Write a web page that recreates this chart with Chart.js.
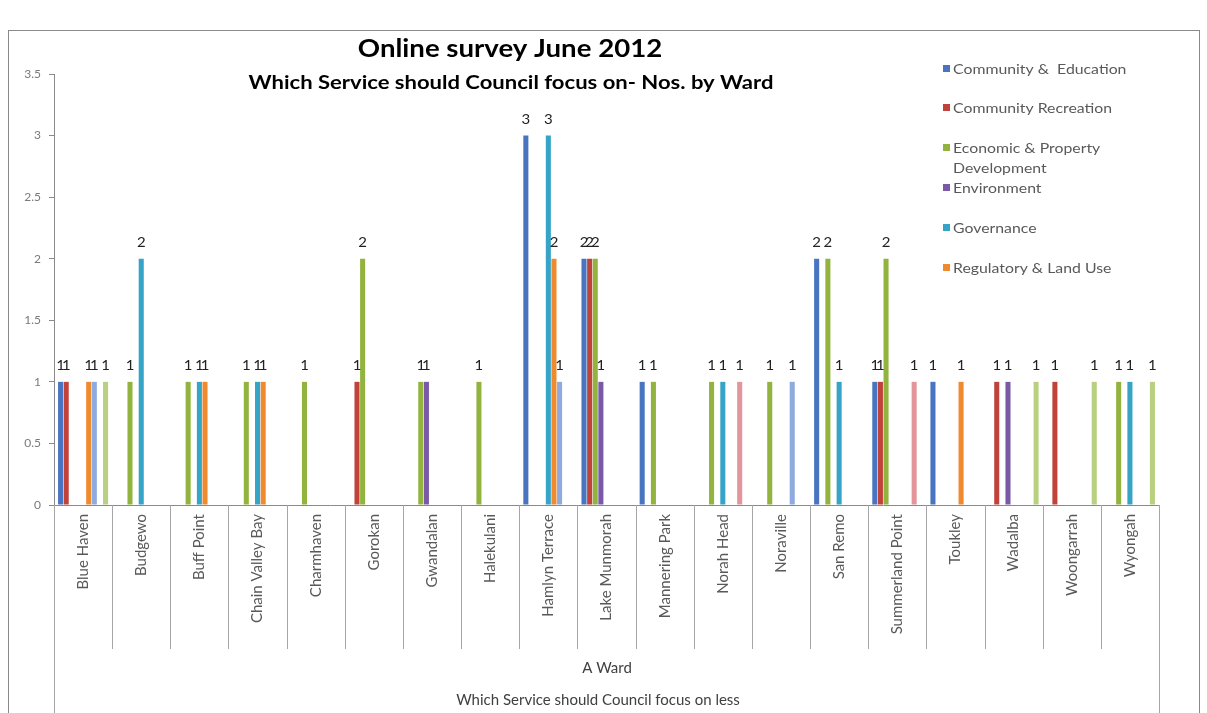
<!DOCTYPE html>
<html>
<head>
<meta charset="utf-8">
<title>Online survey June 2012</title>
<script src="https://cdn.jsdelivr.net/npm/chart.js@4.4.1/dist/chart.umd.min.js"></script>
<style>
  html, body { margin: 0; padding: 0; background: #fff; }
  #wrap { position: relative; width: 1207px; height: 713px; }
</style>
</head>
<body>
<div id="wrap"><canvas id="chart-ward"></canvas></div>
<script>
// wards (categories)
const wards = [
  'Blue Haven', 'Budgewo', 'Buff Point', 'Chain Valley Bay', 'Charmhaven',
  'Gorokan', 'Gwandalan', 'Halekulani', 'Hamlyn Terrace', 'Lake Munmorah',
  'Mannering Park', 'Norah Head', 'Noraville', 'San Remo', 'Summerland Point',
  'Toukley', 'Wadalba', 'Woongarrah', 'Wyongah'
];

// responses per ward, one array per service
const communityEducation = [1, null, null, null, null, null, null, null, 3, 2, 1, null, null, 2, 1, 1, null, null, null];
const communityRecreation = [1, null, null, null, null, 1, null, null, null, 2, null, null, null, null, 1, null, 1, 1, null];
const economicProperty = [null, 1, 1, 1, 1, 2, 1, 1, null, 2, 1, 1, 1, 2, 2, null, null, null, 1];
const environment = [null, null, null, null, null, null, 1, null, null, 1, null, null, null, null, null, null, 1, null, null];
const governance = [null, 2, 1, 1, null, null, null, null, 3, null, null, 1, null, 1, null, null, null, null, 1];
const regulatoryLand = [1, null, 1, 1, null, null, null, null, 2, null, null, null, null, null, null, 1, null, null, null];
const series7 = [1, null, null, null, null, null, null, null, 1, null, null, null, 1, null, null, null, null, null, null];
const series8 = [null, null, null, null, null, null, null, null, null, null, null, 1, null, null, 1, null, null, null, null];
const series9 = [1, null, null, null, null, null, null, null, null, null, null, null, null, null, null, null, 1, 1, 1];

const yTicks = [0, 0.5, 1, 1.5, 2, 2.5, 3, 3.5];

const services = [
  { label: 'Community &  Education', data: communityEducation, color: '#4874c0' },
  { label: 'Community Recreation', data: communityRecreation, color: '#c0433b' },
  { label: 'Economic & Property|Development', data: economicProperty, color: '#92b43f' },
  { label: 'Environment', data: environment, color: '#7a5aa6' },
  { label: 'Governance', data: governance, color: '#36a4c6' },
  { label: 'Regulatory & Land Use', data: regulatoryLand, color: '#f08a2e' },
  { label: 'Series7', data: series7, color: '#8eaadf' },
  { label: 'Series8', data: series8, color: '#e3959a' },
  { label: 'Series9', data: series9, color: '#b8d07f' }
];

const FONT = 'Lato, "Open Sans", sans-serif';
const GREY = '#595959';

// text drawn a little wider than the font, like the sheet it came from
function wideText(ctx, text, x, y, sx) {
  ctx.save();
  ctx.translate(x, y);
  ctx.scale(sx, 1);
  ctx.fillText(text, 0, 0);
  ctx.restore();
}

// value labels on top of every bar
const barLabels = {
  id: 'barLabels',
  afterDatasetsDraw(chart) {
    const { ctx } = chart;
    ctx.save();
    ctx.font = '13px ' + FONT;
    ctx.fillStyle = '#222';
    ctx.textAlign = 'center';
    ctx.textBaseline = 'alphabetic';
    chart.data.datasets.forEach((ds, i) => {
      chart.getDatasetMeta(i).data.forEach((bar, j) => {
        const v = ds.data[j];
        if (v == null) return;
        wideText(ctx, String(v), bar.x, bar.y - 12, 1.15);
      });
    });
    ctx.restore();
  }
};

// titles, legend, ward table lines and outer frame
const decorations = {
  id: 'decorations',
  afterDraw(chart) {
    const { ctx, chartArea: area, scales: { x } } = chart;
    ctx.save();

    // frame
    ctx.strokeStyle = '#8a8a8a';
    ctx.lineWidth = 1;
    ctx.strokeRect(8.5, 30.5, 1191, 700);

    // table under the axis
    ctx.strokeStyle = '#a6a6a6';
    ctx.beginPath();
    for (let i = 0; i < wards.length - 1; i++) {
      const bx = Math.round((x.getPixelForValue(i) + x.getPixelForValue(i + 1)) / 2) + 0.5;
      ctx.moveTo(bx, area.bottom);
      ctx.lineTo(bx, 649);
    }
    ctx.moveTo(Math.round(area.left) + 0.5, area.bottom);
    ctx.lineTo(Math.round(area.left) + 0.5, 713);
    ctx.moveTo(Math.round(area.right) + 0.5, area.bottom);
    ctx.lineTo(Math.round(area.right) + 0.5, 713);
    ctx.stroke();

    ctx.fillStyle = '#404040';
    ctx.textAlign = 'center';
    ctx.textBaseline = 'middle';
    ctx.font = '15px ' + FONT;
    ctx.fillText('A Ward', 607, 668);
    ctx.fillText('Which Service should Council focus on less', 598, 700);

    // titles
    ctx.fillStyle = '#000';
    ctx.font = 'bold 24px ' + FONT;
    wideText(ctx, 'Online survey June 2012', 510, 49, 1.15);
    ctx.font = 'bold 19px ' + FONT;
    wideText(ctx, 'Which Service should Council focus on- Nos. by Ward', 511, 83, 1.16);

    // legend (first six services)
    const rows = [69, 108, 148, 188, 228, 268];
    ctx.textAlign = 'left';
    ctx.font = '14px ' + FONT;
    services.slice(0, 6).forEach((s, i) => {
      const y = rows[i];
      ctx.fillStyle = s.color;
      ctx.fillRect(943, y - 4, 7, 7);
      ctx.fillStyle = GREY;
      s.label.split('|').forEach((line, k) => wideText(ctx, line, 953, y + k * 20, 1.13));
    });

    ctx.restore();
  }
};

const ctxWard = document.getElementById('chart-ward').getContext('2d');

const chartWard = new Chart(ctxWard, {
  type: 'bar',
  data: {
    labels: wards,
    datasets: services.map(s => ({
      label: s.label.replace('|', ' '),
      data: s.data,
      backgroundColor: s.color,
      categoryPercentage: 0.87,
      barPercentage: 0.9
    }))
  },
  options: {
    responsive: true,
    maintainAspectRatio: false,
    animation: false,
    layout: { padding: { top: 74, right: 48, left: 0, bottom: 0 } },
    plugins: {
      legend: { display: false },
      tooltip: { enabled: false }
    },
    scales: {
      x: {
        grid: { drawOnChartArea: false, drawTicks: false },
        border: { display: true, color: '#8a8a8a' },
        ticks: {
          autoSkip: false,
          minRotation: 90,
          maxRotation: 90,
          padding: 9,
          color: GREY,
          font: { family: FONT, size: 15 }
        },
        afterFit: s => { s.height = 208; }
      },
      y: {
        min: 0,
        max: 3.5,
        afterBuildTicks: s => { s.ticks = yTicks.map(v => ({ value: v })); },
        grid: { drawOnChartArea: false, tickLength: 5, color: '#8a8a8a' },
        border: { display: true, color: '#8a8a8a' },
        ticks: {
          padding: 8,
          color: '#7a7a7a',
          font: { family: FONT, size: 12 },
          callback: v => String(v)
        },
        afterFit: s => { s.width = 54; }
      }
    }
  },
  plugins: [barLabels, decorations]
});
</script>
</body>
</html>
